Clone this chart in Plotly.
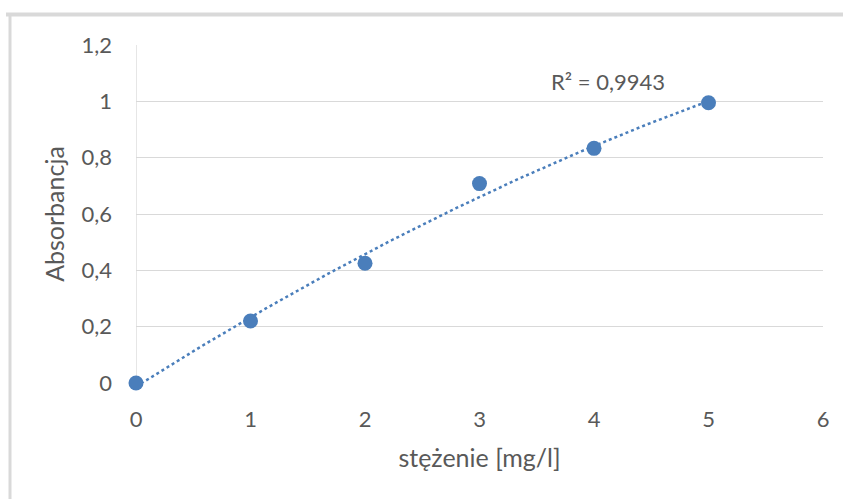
import numpy as np
import plotly.graph_objects as go

# Data
stezenie = [0, 1, 2, 3, 4, 5]
absorbancja = [0.0, 0.22, 0.425, 0.708, 0.833, 0.995]
r2_label = "R² = 0,9943"
x_title = "stężenie [mg/l]"
y_title = "Absorbancja"

# Polynomial (2nd order) trendline fitted from the data
coef = np.polyfit(stezenie, absorbancja, 2)
xt = np.linspace(min(stezenie), max(stezenie), 200)
yt = np.polyval(coef, xt)

W, H = 843, 499
ml, mr, mt, mb = 136, 20, 45, 116
pw, ph = W - ml - mr, H - mt - mb

def px_x(p):
    return (p - ml) / pw

def px_y(p):
    return 1 - (p - mt) / ph

blue = "#4a7ebb"
grey_txt = "#595959"
font = "Lato, Open Sans, sans-serif"

fig = go.Figure()
fig.add_trace(go.Scatter(x=xt, y=yt, mode="lines",
                         line=dict(color=blue, width=2.5, dash="dot"),
                         hoverinfo="skip", showlegend=False, cliponaxis=False))
fig.add_trace(go.Scatter(x=stezenie, y=absorbancja, mode="markers",
                         marker=dict(color=blue, size=15),
                         showlegend=False, cliponaxis=False))

fig.update_layout(
    width=W, height=H,
    margin=dict(l=ml, r=mr, t=mt, b=mb, pad=0),
    paper_bgcolor="white", plot_bgcolor="white",
    separators=", ",
    font=dict(family=font, color=grey_txt, size=22),
    showlegend=False,
    xaxis=dict(range=[0, 6], dtick=1, tick0=0, showgrid=False,
               zeroline=False, showline=False, ticks="",
               ticklabelstandoff=21,
               tickfont=dict(size=22, color=grey_txt),
               title=dict(text=x_title, standoff=18,
                          font=dict(size=25, color=grey_txt))),
    yaxis=dict(range=[0, 1.2], dtick=0.2, tick0=0, showgrid=True,
               gridcolor="#d9d9d9", gridwidth=1.3,
               zeroline=False, showline=False, ticks="",
               ticklabelstandoff=23,
               tickfont=dict(size=22, color=grey_txt),
               title=dict(text=y_title, standoff=9,
                          font=dict(size=25, color=grey_txt))),
)

# y axis line
fig.add_shape(type="line", xref="x", yref="y", x0=0, x1=0, y0=0, y1=1.2,
              line=dict(color="#d9d9d9", width=1.3), layer="below")

# chart border (top and left visible)
fig.add_shape(type="line", xref="paper", yref="paper",
              x0=px_x(6), x1=px_x(843), y0=px_y(14.5), y1=px_y(14.5),
              line=dict(color="#d9d9d9", width=4))
fig.add_shape(type="line", xref="paper", yref="paper",
              x0=px_x(10), x1=px_x(10), y0=px_y(13), y1=px_y(499),
              line=dict(color="#d9d9d9", width=3))

fig.add_annotation(text=r2_label, xref="x", yref="y", x=4.12, y=1.07,
                   showarrow=False, font=dict(size=22, color=grey_txt))

fig.write_html("out.html")
